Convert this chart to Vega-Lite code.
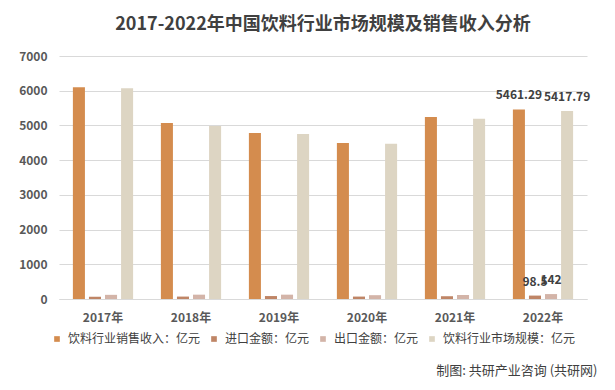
{
  "$schema": "https://vega.github.io/schema/vega-lite/v6.json",
  "width": 528,
  "height": 243,
  "autosize": {"type": "none"},
  "padding": {"left": 59, "top": 56, "right": 28, "bottom": 91},
  "background": "white",
  "title": {
    "text": "2017-2022年中国饮料行业市场规模及销售收入分析",
    "font": "Noto Sans CJK SC",
    "fontSize": 18,
    "fontWeight": "bold",
    "color": "#404040",
    "anchor": "middle",
    "baseline": "middle",
    "offset": 7
  },
  "config": {
    "font": "Noto Sans CJK SC",
    "view": {"stroke": null}
  },
  "data": {
    "values": [
      {"year": "2017年", "series": "饮料行业销售收入：亿元", "value": 6100},
      {"year": "2017年", "series": "进口金额：亿元", "value": 65},
      {"year": "2017年", "series": "出口金额：亿元", "value": 120},
      {"year": "2017年", "series": "饮料行业市场规模：亿元", "value": 6070},
      {"year": "2018年", "series": "饮料行业销售收入：亿元", "value": 5070},
      {"year": "2018年", "series": "进口金额：亿元", "value": 70},
      {"year": "2018年", "series": "出口金额：亿元", "value": 125},
      {"year": "2018年", "series": "饮料行业市场规模：亿元", "value": 4985},
      {"year": "2019年", "series": "饮料行业销售收入：亿元", "value": 4780},
      {"year": "2019年", "series": "进口金额：亿元", "value": 85},
      {"year": "2019年", "series": "出口金额：亿元", "value": 125},
      {"year": "2019年", "series": "饮料行业市场规模：亿元", "value": 4755},
      {"year": "2020年", "series": "饮料行业销售收入：亿元", "value": 4495},
      {"year": "2020年", "series": "进口金额：亿元", "value": 70},
      {"year": "2020年", "series": "出口金额：亿元", "value": 110},
      {"year": "2020年", "series": "饮料行业市场规模：亿元", "value": 4470},
      {"year": "2021年", "series": "饮料行业销售收入：亿元", "value": 5245},
      {"year": "2021年", "series": "进口金额：亿元", "value": 80},
      {"year": "2021年", "series": "出口金额：亿元", "value": 115},
      {"year": "2021年", "series": "饮料行业市场规模：亿元", "value": 5190},
      {"year": "2022年", "series": "饮料行业销售收入：亿元", "value": 5461.29},
      {"year": "2022年", "series": "进口金额：亿元", "value": 98.5},
      {"year": "2022年", "series": "出口金额：亿元", "value": 142},
      {"year": "2022年", "series": "饮料行业市场规模：亿元", "value": 5417.79}
    ]
  },
  "encoding": {
    "x": {
      "field": "year",
      "type": "nominal",
      "scale": {"paddingInner": 0.27, "paddingOuter": 0.135},
      "axis": {
        "title": "制图: 共研产业咨询 (共研网)",
        "titleX": 538,
        "titleY": 71,
        "titleAlign": "right",
        "titleBaseline": "middle",
        "titleFontSize": 13,
        "titleFontWeight": "normal",
        "titleColor": "#404040",
        "labelAngle": 0,
        "labelFontSize": 12,
        "labelFontWeight": "bold",
        "labelColor": "#595959",
        "labelPadding": 13,
        "ticks": false,
        "domainColor": "#D9D9D9",
        "grid": false
      }
    },
    "xOffset": {
      "field": "series",
      "type": "nominal",
      "sort": ["饮料行业销售收入：亿元", "进口金额：亿元", "出口金额：亿元", "饮料行业市场规模：亿元"],
      "scale": {"paddingInner": 0.25, "paddingOuter": 0.125}
    },
    "y": {
      "field": "value",
      "type": "quantitative",
      "scale": {"domain": [0, 7000], "nice": false},
      "axis": {
        "title": null,
        "values": [0, 1000, 2000, 3000, 4000, 5000, 6000, 7000],
        "format": "d",
        "labelFontSize": 12,
        "labelFontWeight": "bold",
        "labelColor": "#595959",
        "labelPadding": 12,
        "domain": false,
        "ticks": false,
        "gridColor": "#D9D9D9"
      }
    },
    "color": {
      "field": "series",
      "type": "nominal",
      "sort": ["饮料行业销售收入：亿元", "进口金额：亿元", "出口金额：亿元", "饮料行业市场规模：亿元"],
      "scale": {
        "domain": ["饮料行业销售收入：亿元", "进口金额：亿元", "出口金额：亿元", "饮料行业市场规模：亿元"],
        "range": ["#D48C4E", "#BF8566", "#D3B4A8", "#DDD5C3"]
      },
      "legend": {
        "title": null,
        "orient": "none",
        "legendX": -8,
        "legendY": 277,
        "direction": "horizontal",
        "symbolType": "square",
        "symbolSize": 32,
        "symbolStrokeWidth": 0,
        "labelOffset": 5,
        "labelFontSize": 12,
        "labelColor": "#404040",
        "labelFontWeight": "normal",
        "columnPadding": 7,
        "labelLimit": 300
      }
    }
  },
  "layer": [
    {"mark": {"type": "bar"}},
    {
      "transform": [{"filter": "datum.year == '2022年'"}],
      "mark": {"type": "text", "dy": -14, "fontSize": 12, "fontWeight": "bold", "color": "#404040"},
      "encoding": {
        "text": {"field": "value", "type": "quantitative"},
        "color": {"value": "#404040"}
      }
    }
  ]
}
